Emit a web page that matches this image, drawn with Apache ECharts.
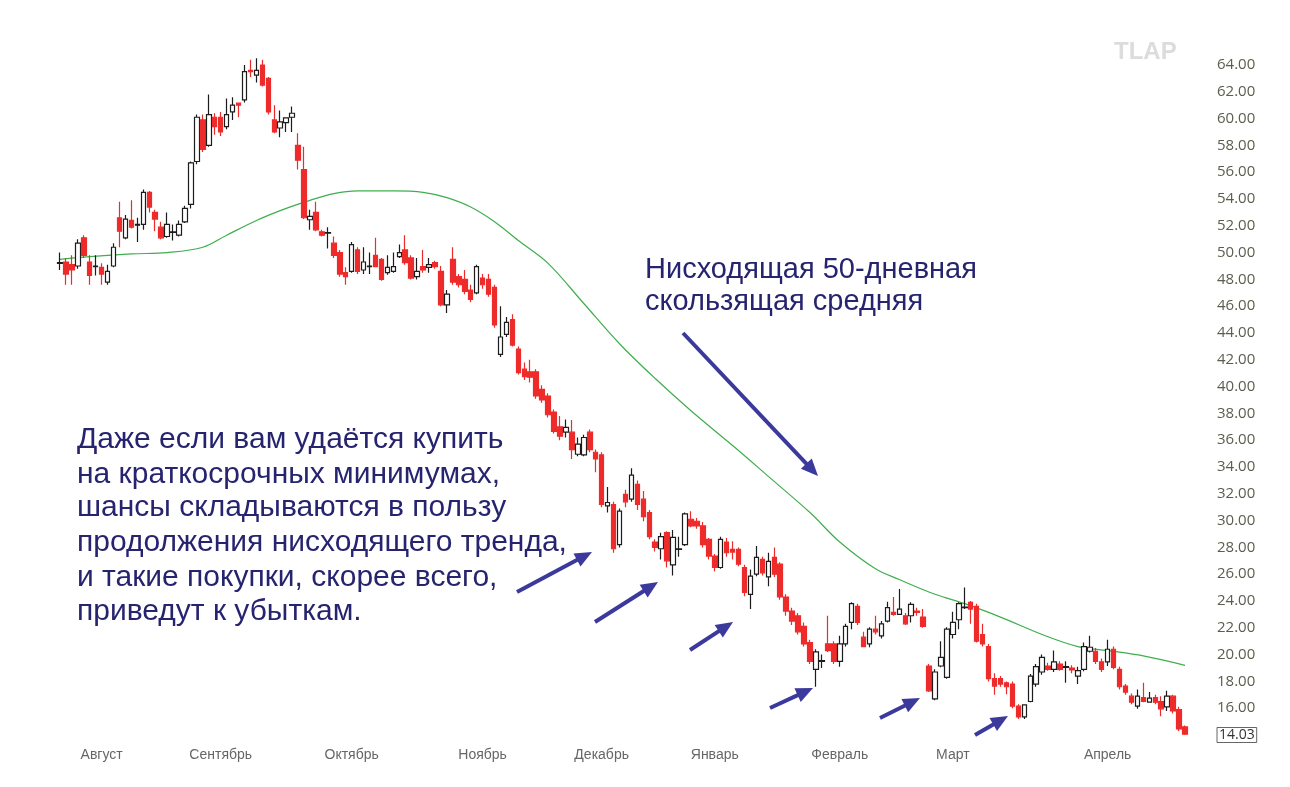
<!DOCTYPE html>
<html>
<head>
<meta charset="utf-8">
<script src="https://cdn.jsdelivr.net/npm/echarts@6/dist/echarts.min.js"></script>
<style>
    html, body { margin: 0; padding: 0; background: #fff; }
    #chart { width: 1290px; height: 787px; }
</style>
</head>
<body>
<div id="chart"></div>
<script>
// candles: [open, close, low, high]
const candlesAug = [
    [49.2, 49.25, 48.7, 50.0], [49.3, 48.4, 47.6, 49.6], [49.1, 48.7, 47.6, 49.8], [49.0, 50.7, 48.8, 51.0],
    [51.1, 49.8, 49.6, 51.3], [49.3, 48.3, 47.6, 49.8], [48.95, 49.0, 48.3, 49.8], [48.9, 48.4, 47.6, 49.2],
    [47.8, 48.6, 47.6, 49.1], [49.0, 50.4, 48.9, 50.7], [52.6, 51.6, 50.4, 53.8], [51.1, 52.5, 51.0, 52.8],
    [52.4, 51.9, 51.8, 53.9], [52.05, 52.1, 50.8, 52.6], [52.1, 54.5, 51.7, 54.7], [54.5, 53.4, 53.0, 54.6],
    [53.0, 52.5, 51.6, 53.2], [51.9, 51.1, 51.0, 52.3], [51.2, 52.1, 51.1, 53.0], [51.5, 51.55, 50.9, 52.1],
    [51.3, 52.1, 51.2, 52.4], [52.3, 53.3, 52.2, 53.5], [53.6, 56.7, 53.3, 56.8], [56.8, 60.1, 56.6, 60.3],
    [59.9, 57.7, 57.5, 60.3], [58.0, 60.3, 57.9, 61.8], [60.1, 59.4, 58.8, 60.4]
];
const candlesSep = [
    [60.1, 59.0, 58.7, 60.5], [59.4, 60.3, 59.2, 61.5], [60.5, 61.0, 59.9, 61.6], [61.15, 61.0, 60.1, 61.2],
    [61.4, 63.5, 61.2, 64.0], [63.6, 63.5, 63.1, 64.4], [63.25, 63.6, 62.7, 64.5], [64.0, 62.5, 62.4, 64.4],
    [63.0, 60.5, 60.3, 63.1], [59.9, 59.0, 58.9, 61.0], [59.3, 59.75, 58.6, 60.6], [59.7, 60.05, 59.0, 60.1],
    [60.1, 60.4, 59.0, 60.9], [58.0, 56.9, 56.2, 58.9], [56.2, 52.6, 52.5, 57.9], [52.45, 52.7, 51.7, 53.2],
    [53.0, 51.7, 51.6, 53.8], [51.55, 51.3, 51.2, 51.7], [51.45, 51.5, 50.3, 51.9], [50.7, 49.8, 49.6, 51.2],
    [50.0, 48.4, 48.2, 50.2], [48.5, 48.2, 47.6, 48.9]
];
const candlesOct = [
    [48.6, 50.6, 48.5, 50.8], [50.2, 48.6, 48.4, 50.4], [48.7, 49.3, 48.4, 50.4], [48.95, 49.0, 48.4, 50.0],
    [49.8, 48.95, 48.9, 51.1], [49.5, 48.0, 47.9, 49.6], [48.5, 48.9, 48.35, 49.8], [48.6, 48.95, 48.5, 50.0],
    [49.7, 50.0, 49.6, 50.6], [50.2, 49.25, 49.1, 51.3], [49.6, 48.1, 48.0, 49.8], [48.2, 48.6, 48.0, 49.6],
    [48.95, 48.7, 48.5, 50.2], [48.9, 49.1, 48.5, 49.6], [49.25, 48.95, 48.8, 49.4], [48.6, 46.1, 46.0, 49.0],
    [46.1, 46.9, 45.5, 47.2], [49.5, 47.8, 47.6, 50.4], [48.2, 47.6, 47.4, 48.4], [48.0, 47.1, 46.9, 48.7],
    [47.2, 46.5, 46.3, 47.6], [47.0, 48.95, 46.9, 49.1]
];
const candlesNov = [
    [48.1, 47.6, 47.3, 48.4], [48.0, 46.9, 46.7, 48.4], [47.4, 44.6, 44.4, 47.6], [42.4, 43.7, 42.2, 46.0],
    [43.9, 44.8, 43.7, 45.2], [45.0, 43.1, 43.0, 45.4], [42.8, 41.05, 40.9, 43.0], [41.3, 40.75, 40.5, 41.8],
    [41.1, 40.7, 40.3, 42.0], [41.1, 39.3, 39.1, 41.3], [39.8, 39.0, 38.8, 40.1], [39.3, 37.9, 37.7, 39.5],
    [38.1, 36.65, 36.5, 38.3], [37.0, 36.3, 36.0, 37.8], [36.6, 36.95, 36.2, 37.55], [36.6, 35.3, 34.6, 37.5],
    [34.95, 35.7, 34.8, 36.2], [34.9, 36.2, 34.8, 36.4], [36.6, 35.3, 35.1, 36.8], [35.1, 34.6, 33.6, 35.3]
];
const candlesDec = [
    [34.9, 31.2, 31.0, 35.1], [31.1, 31.35, 30.6, 32.5], [31.2, 27.9, 27.6, 31.4], [28.2, 30.7, 28.0, 30.9],
    [31.95, 31.4, 31.0, 32.3], [31.6, 33.4, 31.4, 33.9], [32.7, 31.2, 30.8, 33.0], [31.6, 30.3, 29.95, 32.2],
    [30.6, 28.8, 28.6, 30.8], [28.4, 28.0, 27.7, 28.6], [27.9, 28.8, 27.1, 29.1], [29.1, 27.0, 26.5, 29.2],
    [26.7, 28.75, 25.9, 29.3], [27.85, 27.9, 27.3, 28.8], [28.2, 30.5, 28.1, 30.6], [30.1, 29.6, 29.5, 30.7],
    [29.95, 29.6, 29.4, 30.2], [29.6, 28.2, 28.0, 29.9], [28.6, 27.35, 27.1, 28.7]
];
const candlesJan = [
    [27.35, 26.5, 26.2, 27.5], [26.5, 28.6, 26.4, 28.8], [28.4, 27.6, 27.3, 28.7], [27.85, 27.65, 27.1, 28.45],
    [27.85, 26.75, 26.6, 28.0], [26.5, 24.65, 24.35, 26.7], [24.5, 25.85, 23.4, 26.35], [26.0, 27.25, 25.85, 28.1],
    [27.1, 26.1, 25.9, 27.3], [25.8, 26.95, 25.1, 27.6], [27.25, 26.0, 25.8, 28.0], [26.75, 24.3, 24.1, 26.9],
    [24.3, 23.25, 22.9, 24.5], [23.25, 22.5, 22.2, 23.5], [22.9, 21.7, 21.5, 23.1], [22.1, 20.8, 20.6, 22.4],
    [20.9, 19.5, 19.3, 21.1], [18.9, 20.2, 17.6, 20.4], [19.5, 19.55, 19.0, 20.0], [20.8, 20.3, 20.2, 22.9],
    [20.8, 19.5, 19.3, 21.0]
];
const candlesFeb = [
    [19.5, 20.8, 19.1, 21.4], [20.8, 22.1, 20.6, 22.3], [22.4, 23.8, 21.9, 23.9], [23.6, 22.4, 22.2, 23.8],
    [21.3, 20.6, 20.55, 21.7], [20.8, 21.9, 20.55, 22.05], [21.9, 21.7, 21.5, 22.9], [21.4, 22.3, 21.2, 22.5],
    [22.5, 23.5, 22.4, 23.95], [23.15, 23.0, 22.9, 24.3], [23.0, 23.4, 22.95, 24.9], [22.9, 22.3, 22.2, 23.1],
    [22.9, 23.75, 22.4, 23.9], [23.25, 23.15, 22.9, 23.5], [22.8, 22.1, 22.0, 23.4], [19.15, 17.3, 17.2, 19.3],
    [16.7, 18.7, 16.6, 18.9], [19.15, 19.8, 19.05, 21.0], [18.3, 21.9, 18.2, 22.05]
];
const candlesMar = [
    [21.5, 22.4, 21.2, 23.2], [22.6, 23.8, 21.9, 23.9], [23.5, 23.55, 23.4, 25.0], [23.9, 23.4, 22.3, 24.0],
    [23.6, 21.0, 20.9, 23.8], [21.5, 20.8, 20.6, 22.3], [20.6, 18.2, 18.0, 20.8], [18.2, 17.65, 17.0, 18.6],
    [18.2, 17.8, 17.6, 18.4], [17.9, 17.6, 17.05, 18.0], [17.8, 16.15, 16.0, 18.0], [16.15, 15.35, 15.2, 16.3],
    [15.35, 16.25, 15.2, 16.3], [16.5, 18.4, 16.45, 18.55], [17.8, 19.1, 17.6, 19.3], [18.7, 19.8, 18.5, 20.0],
    [19.15, 18.9, 18.8, 19.4], [18.9, 19.45, 18.7, 20.3], [19.3, 18.9, 18.8, 19.5], [19.05, 19.1, 17.9, 19.5],
    [19.0, 18.85, 18.6, 19.2], [18.4, 18.8, 17.8, 19.1], [18.9, 20.6, 18.75, 20.9], [20.25, 20.55, 20.15, 21.4],
    [20.25, 19.5, 19.3, 20.5], [19.45, 18.9, 18.7, 19.7]
];
const candlesApr = [
    [19.45, 20.4, 19.15, 21.1], [20.4, 19.05, 18.9, 20.6], [18.9, 17.6, 17.4, 19.1], [17.65, 17.2, 17.0, 17.8],
    [16.9, 16.45, 16.3, 17.1], [16.15, 16.9, 15.95, 17.4], [16.8, 16.5, 16.45, 17.9], [16.45, 16.75, 16.4, 17.2],
    [16.8, 16.45, 16.3, 17.0], [16.5, 15.95, 15.4, 16.9], [16.1, 16.9, 15.8, 17.3], [16.9, 15.8, 15.6, 17.0],
    [15.9, 14.45, 14.3, 16.1], [14.6, 14.07, 14.0, 14.7]
];

// 50-day moving average, read at a few points (candle index, price)
const maIdx = [0, 5, 12, 18, 24, 28, 33, 38, 42, 46, 50, 56, 61, 65, 69, 73, 77, 82, 88, 94, 100, 106, 113, 119, 126, 131, 137, 141, 147, 152, 158, 165, 171, 176, 182, 189];
const maVal = [49.5, 49.7, 49.9, 50.0, 50.4, 51.3, 52.4, 53.3, 53.9, 54.4, 54.6, 54.6, 54.5, 54.1, 53.4, 52.3, 50.9, 49.2, 46.2, 43.2, 40.6, 38.2, 35.6, 33.3, 30.6, 28.4, 26.4, 25.6, 24.5, 23.8, 22.8, 21.5, 20.6, 20.3, 19.9, 19.2];

// month labels and the candle they sit under
const monthNames = ['Август', 'Сентябрь', 'Октябрь', 'Ноябрь', 'Декабрь', 'Январь', 'Февраль', 'Март', 'Апрель'];
const monthIdx = [7, 27, 49, 71, 91, 110, 131, 150, 176];

const lastPrice = '14.03';

const candles = [].concat(candlesAug, candlesSep, candlesOct, candlesNov, candlesDec, candlesJan, candlesFeb, candlesMar, candlesApr);
const categories = candles.map(() => '');
monthIdx.forEach((idx, k) => { categories[idx] = monthNames[k]; });
const maData = maIdx.map((idx, k) => [idx, maVal[k]]);

const navy = '#27246f';
const arrowColor = '#3b3a9c';

function textLine(x, y, text, size) {
    return {
        type: 'text',
        x: x,
        y: y,
        silent: true,
        style: {
            text: text,
            font: size + 'px "Liberation Sans", Arial, sans-serif',
            fill: navy,
            align: 'left',
            verticalAlign: 'middle'
        }
    };
}

function arrow(x1, y1, x2, y2) {
    const len = Math.sqrt((x2 - x1) * (x2 - x1) + (y2 - y1) * (y2 - y1));
    const ux = (x2 - x1) / len;
    const uy = (y2 - y1) / len;
    const head = 17;
    const half = 7.5;
    const bx = x2 - ux * head;
    const by = y2 - uy * head;
    return {
        type: 'group',
        silent: true,
        children: [
            {
                type: 'line',
                shape: { x1: x1, y1: y1, x2: bx + ux * 2, y2: by + uy * 2 },
                style: { stroke: arrowColor, lineWidth: 4 }
            },
            {
                type: 'polygon',
                shape: { points: [[x2, y2], [bx - uy * half, by + ux * half], [bx + uy * half, by - ux * half]] },
                style: { fill: arrowColor }
            }
        ]
    };
}

const chart = echarts.init(document.getElementById('chart'));
chart.setOption({
    backgroundColor: '#ffffff',
    animation: false,
    grid: { left: 57, right: 102, top: 65, bottom: 52 },
    xAxis: {
        type: 'category',
        data: categories,
        axisLine: { show: false },
        axisTick: { show: false },
        splitLine: { show: false },
        axisLabel: {
            interval: 0,
            margin: 13,
            color: '#666666',
            fontSize: 14,
            fontFamily: '"Liberation Sans", Arial, sans-serif'
        }
    },
    yAxis: {
        type: 'value',
        position: 'right',
        min: 14,
        max: 64,
        interval: 2,
        axisLine: { show: false },
        axisTick: { show: false },
        splitLine: { show: false },
        axisLabel: {
            margin: 29,
            color: '#5a5e4c',
            fontSize: 15,
            fontFamily: '"Open Sans", sans-serif',
            formatter: v => (v === 14 ? '{last|' + lastPrice + '}' : v.toFixed(2)),
            rich: {
                last: {
                    color: '#333',
                    fontSize: 14,
                    fontFamily: '"Open Sans", sans-serif',
                    borderColor: '#666',
                    borderWidth: 1,
                    padding: [1, 2, 0, 2]
                }
            }
        }
    },
    series: [
        {
            type: 'line',
            data: maData,
            smooth: 0.35,
            showSymbol: false,
            lineStyle: { color: '#3fae4e', width: 1.2 },
            z: 1
        },
        {
            type: 'candlestick',
            data: candles,
            barWidth: 5,
            clip: false,
            itemStyle: {
                color: '#ffffff',
                color0: '#ee2b2b',
                borderColor: '#1c1c1c',
                borderColor0: '#ee2b2b',
                borderWidth: 1.2
            },
            z: 2
        }
    ],
    graphic: [
        {
            type: 'text',
            x: 1114,
            y: 52,
            silent: true,
            style: {
                text: 'TLAP',
                font: 'bold 24px "Liberation Sans", Arial, sans-serif',
                fill: '#dcdcdc',
                verticalAlign: 'middle'
            }
        },
        textLine(645, 270, 'Нисходящая 50-дневная', 29),
        textLine(645, 302, 'скользящая средняя', 29),
        textLine(77, 440, 'Даже если вам удаётся купить', 30),
        textLine(77, 475, 'на краткосрочных минимумах,', 30),
        textLine(77, 508, 'шансы складываются в пользу', 30),
        textLine(77, 543, 'продолжения нисходящего тренда,', 30),
        textLine(77, 578, 'и такие покупки, скорее всего,', 30),
        textLine(77, 612, 'приведут к убыткам.', 30),
        arrow(683, 333, 818, 476),
        arrow(517, 592, 592, 552),
        arrow(595, 622, 658, 582),
        arrow(690, 650, 733, 622),
        arrow(770, 708, 813, 688),
        arrow(880, 718, 920, 698),
        arrow(975, 735, 1008, 716)
    ]
});
</script>
</body>
</html>
